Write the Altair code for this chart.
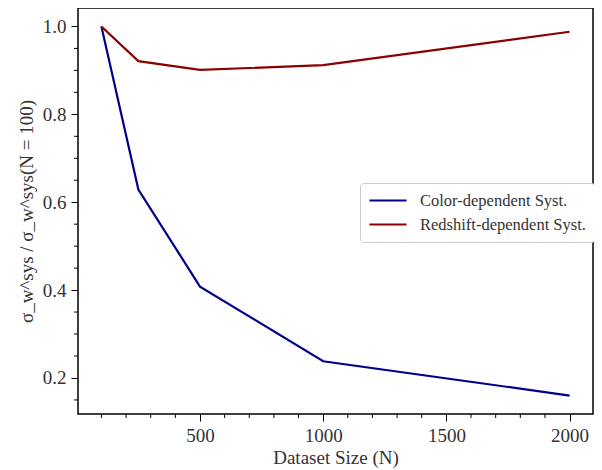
import altair as alt
import pandas as pd

N = [100, 250, 500, 1000, 2000]
color_dep = [1.0, 0.629, 0.408, 0.238, 0.160]
redshift_dep = [1.0, 0.921, 0.901, 0.912, 0.988]
series_names = ["Color-dependent Syst.", "Redshift-dependent Syst."]
series_colors = ["#00008B", "#8B0000"]

x_major = [500, 1000, 1500, 2000]
y_major = [0.2, 0.4, 0.6, 0.8, 1.0]
x_minor = [v for v in range(100, 2001, 100) if v % 500 != 0]
y_minor = [0.15, 0.25, 0.3, 0.35, 0.45, 0.5, 0.55, 0.65, 0.7, 0.75, 0.85, 0.9, 0.95]

W, H = 515, 406
FONT = "Liberation Serif"

rows = []
for n, a, b in zip(N, color_dep, redshift_dep):
    rows.append({"N": n, "v": a, "s": series_names[0]})
    rows.append({"N": n, "v": b, "s": series_names[1]})
df = pd.DataFrame(rows)

xs = alt.Scale(domain=[5, 2095], nice=False, zero=False)
ys = alt.Scale(domain=[0.118, 1.042], nice=False, zero=False)

lines = alt.Chart(df).mark_line(strokeWidth=2.2).encode(
    x=alt.X("N:Q", scale=xs, axis=alt.Axis(values=x_major, title="Dataset Size (N)", format="d")),
    y=alt.Y("v:Q", scale=ys, axis=alt.Axis(values=y_major, title="σ_w^sys / σ_w^sys(N = 100)", format=".1f")),
    color=alt.Color("s:N", scale=alt.Scale(domain=series_names, range=series_colors),
                    legend=alt.Legend(title=None, orient="none", legendX=282, legendY=175,
                                      symbolType="stroke", symbolSize=1369, symbolStrokeWidth=2.2,
                                      clipHeight=19, labelLimit=400,
                                      labelFont=FONT, labelFontSize=16.5, labelColor="#333",
                                      fillColor="white", strokeColor="#cccccc", cornerRadius=3,
                                      padding=8, rowPadding=5, labelOffset=12)),
)

xm = alt.Chart(pd.DataFrame({"x": x_minor})).mark_rule(color="black", strokeWidth=1).encode(
    x=alt.X("x:Q", scale=xs), y=alt.value(H), y2=alt.value(H + 4))
ym = alt.Chart(pd.DataFrame({"y": y_minor})).mark_rule(color="black", strokeWidth=1).encode(
    y=alt.Y("y:Q", scale=ys), x=alt.value(0), x2=alt.value(-4))

chart = alt.layer(lines, xm, ym).properties(
    width=W, height=H, autosize="none",
    padding={"left": 70, "top": 0, "right": 1, "bottom": 56},
).configure_view(stroke="black", strokeWidth=1.5).configure_axis(
    grid=False, domain=False, tickColor="black", tickSize=7, tickWidth=1,
    labelFont=FONT, labelFontSize=19, labelColor="#333", labelPadding=5,
    titleFont=FONT, titleFontSize=19, titleColor="#333", titleFontWeight="normal",
).configure_axisX(titlePadding=3).configure_axisY(titlePadding=6)

chart.save("out.html", embed_options={"renderer": "svg", "actions": False})
